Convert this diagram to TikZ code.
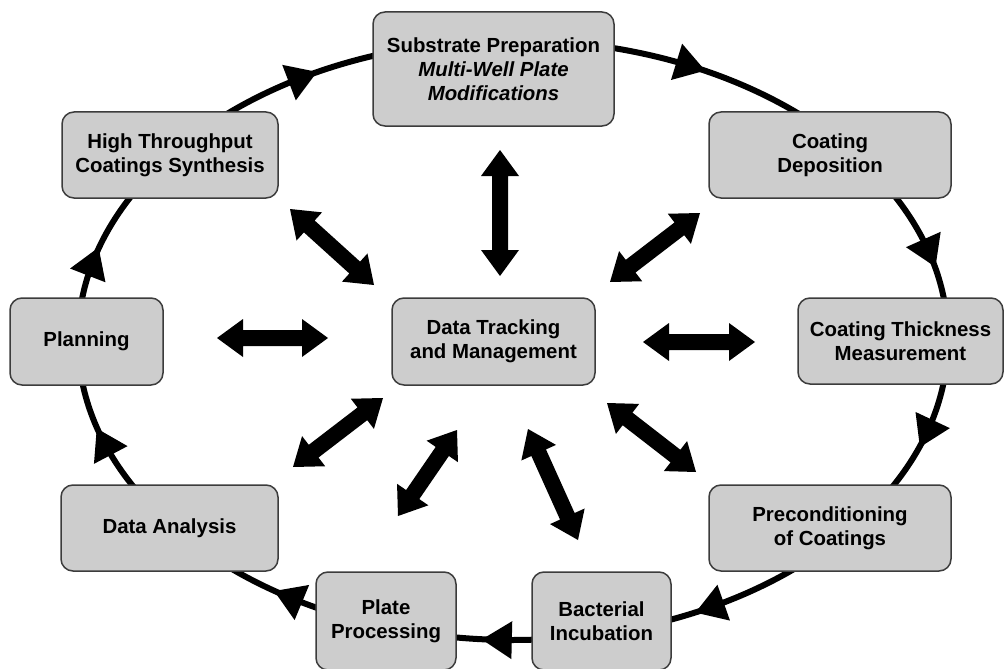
\documentclass[tikz,border=0pt]{standalone}
\usepackage{fontspec}
\setmainfont{Liberation Sans}
\usetikzlibrary{calc}
\definecolor{boxfill}{RGB}{205,205,205}
\definecolor{boxline}{RGB}{60,60,60}
% fat double-headed arrow between two named points
\newcommand\fatarrow[2]{%
  \fill let \p1=(#1), \p2=(#2), \n1={atan2(\y2-\y1,\x2-\x1)} in
    (\p1) -- ($(\p1)+(\n1:26pt)+({\n1+90}:19pt)$) -- ($(\p1)+(\n1:26pt)+({\n1+90}:8pt)$)
    -- ($(\p2)+(\n1:-26pt)+({\n1+90}:8pt)$) -- ($(\p2)+(\n1:-26pt)+({\n1+90}:19pt)$)
    -- (\p2) -- ($(\p2)+(\n1:-26pt)+({\n1-90}:19pt)$) -- ($(\p2)+(\n1:-26pt)+({\n1-90}:8pt)$)
    -- ($(\p1)+(\n1:26pt)+({\n1-90}:8pt)$) -- ($(\p1)+(\n1:26pt)+({\n1-90}:19pt)$) -- cycle;}
\begin{document}
\begin{tikzpicture}[x=1pt,y=-1pt,
  box/.style={draw=boxline, fill=boxfill, line width=1.5pt, rounded corners=12pt,
    align=center, inner sep=0pt, font=\fontsize{20.4}{24}\selectfont\bfseries}]
\useasboundingbox (0,0) rectangle (1005,669);
\fill[white] (0,0) rectangle (1005,669);

% the cycle
\draw[line width=6pt] (513,340) ellipse [x radius=435, y radius=300];
\foreach \t in {-119,-66,-17,18,63,92,121,160,-165}{
  \pgfmathsetmacro\ang{atan2(300*cos(\t),-435*sin(\t))}
  \coordinate (h) at ({513+435*cos(\t)},{340+300*sin(\t)});
  \fill ($(h)+(\ang:16)$) -- ($(h)+({\ang+180}:14)+({\ang+90}:19)$)
        -- ($(h)+({\ang+180}:14)+({\ang-90}:19)$) -- cycle;
}

% process steps
\node[box, minimum width=241pt, minimum height=114pt] (sub) at (493.5,69)
  {Substrate Preparation\\ \itshape Multi-Well Plate\\ \itshape Modifications};
\node[box, minimum width=216pt, minimum height=86pt] (htcs) at (170,155)
  {High Throughput\\Coatings Synthesis};
\node[box, minimum width=242pt, minimum height=86pt] (cd) at (830,155)
  {Coating\\Deposition};
\node[box, minimum width=153pt, minimum height=87pt] (plan) at (86.5,341.5)
  {Planning};
\node[box, minimum width=203pt, minimum height=87pt] (dt) at (493.5,341.5)
  {Data Tracking\\and Management};
\node[box, minimum width=205pt, minimum height=86pt] (ctm) at (900.5,341)
  {Coating Thickness\\Measurement};
\node[box, minimum width=217pt, minimum height=86pt] (da) at (169.5,528)
  {Data Analysis};
\node[box, minimum width=242pt, minimum height=86pt] (pre) at (830,528)
  {Preconditioning\\of Coatings};
\node[box, minimum width=140pt, minimum height=98pt] (pp) at (386,621)
  {Plate\\Processing};
\node[box, minimum width=139pt, minimum height=98pt] (bi) at (601.5,621)
  {Bacterial\\Incubation};

% ends of the data exchange arrows
\coordinate (a1) at (290,209); \coordinate (b1) at (374,285);
\coordinate (a2) at (500,150); \coordinate (b2) at (500,276);
\coordinate (a3) at (700,213); \coordinate (b3) at (610,282);
\coordinate (a4) at (217,338); \coordinate (b4) at (328,338);
\coordinate (a5) at (643,342); \coordinate (b5) at (755,342);
\coordinate (a6) at (383,398); \coordinate (b6) at (293,467);
\coordinate (a7) at (457,430); \coordinate (b7) at (398,516);
\coordinate (a8) at (528,429); \coordinate (b8) at (578,540);
\coordinate (a9) at (607,403); \coordinate (b9) at (696,472);
\foreach \i in {1,...,9}{\fatarrow{a\i}{b\i}}
\end{tikzpicture}
\end{document}
